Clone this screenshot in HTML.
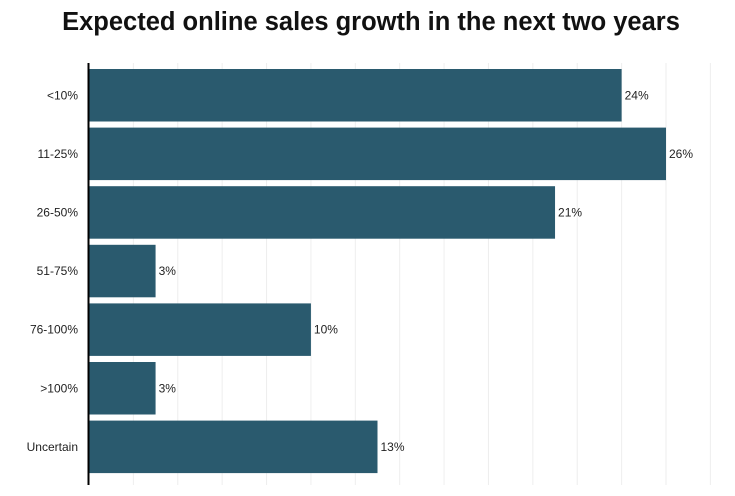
<!DOCTYPE html>
<html><head><meta charset="utf-8"><style>
body{margin:0;background:#fff;font-family:"Liberation Sans",sans-serif}
</style></head><body>
<svg id="chart" width="735" height="491">
<text x="371" y="30" text-anchor="middle" font-size="25.5" font-weight="bold" fill="#111">Expected online sales growth in the next two years</text>
<g id="grid"></g>
<g id="bars"></g>
<line x1="88.5" y1="63" x2="88.5" y2="485" stroke="#000" stroke-width="2"/>
</svg>
<script>
const categories=["<10%","11-25%","26-50%","51-75%","76-100%",">100%","Uncertain"];
const values=[24,26,21,3,10,3,13];
const gridTicks=[2,4,6,8,10,12,14,16,18,20,22,24,26,28];
const x0=89,pxPer=(666-89)/26,topY=66,band=58.6,barH=52.5;
const xs=v=>x0+v*pxPer;
const ys=i=>topY+i*band+3;
const ns="http://www.w3.org/2000/svg";
const grid=document.getElementById('grid'),bars=document.getElementById('bars');
gridTicks.forEach(t=>{const l=document.createElementNS(ns,'line');
l.setAttribute('x1',xs(t));l.setAttribute('x2',xs(t));l.setAttribute('y1',63);l.setAttribute('y2',485);
l.setAttribute('stroke','#eee');l.setAttribute('stroke-width','1');


grid.appendChild(l);});
categories.forEach((c,i)=>{
const r=document.createElementNS(ns,'rect');
r.setAttribute('x',x0);r.setAttribute('y',ys(i));r.setAttribute('width',xs(values[i])-x0);r.setAttribute('height',barH);
r.setAttribute('fill','#2a5a6e');


bars.appendChild(r);
const t=document.createElementNS(ns,'text');
t.setAttribute('x',xs(values[i])+3);t.setAttribute('y',ys(i)+barH/2+4);t.setAttribute('font-size','12');t.setAttribute('fill','#222');
t.textContent=values[i]+'%';


bars.appendChild(t);
const y=document.createElementNS(ns,'text');
y.setAttribute('x',78);y.setAttribute('y',ys(i)+barH/2+4);y.setAttribute('font-size','12');y.setAttribute('text-anchor','end');y.setAttribute('fill','#222');
y.textContent=c;


bars.appendChild(y);
});
</script>
</body></html>
